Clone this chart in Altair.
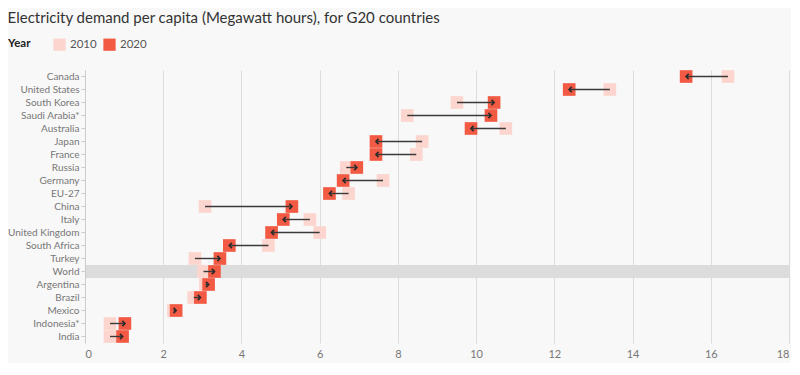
import altair as alt
import pandas as pd

countries = ["Canada", "United States", "South Korea", "Saudi Arabia*", "Australia",
             "Japan", "France", "Russia", "Germany", "EU-27", "China", "Italy",
             "United Kingdom", "South Africa", "Turkey", "World", "Argentina",
             "Brazil", "Mexico", "Indonesia*", "India"]
v2010 = [16.44, 13.42, 9.51, 8.24, 10.76, 8.62, 8.47, 6.68, 7.62, 6.74, 3.07, 5.75,
         6.0, 4.69, 2.81, 3.03, 3.08, 2.78, 2.26, 0.64, 0.64]
v2020 = [15.37, 12.38, 10.46, 10.38, 9.87, 7.44, 7.44, 6.95, 6.6, 6.25, 5.29, 5.07,
         4.77, 3.69, 3.45, 3.31, 3.16, 2.95, 2.33, 1.02, 0.96]
x_ticks = [0, 2, 4, 6, 8, 10, 12, 14, 16, 18]
highlight = ["World"]

df = pd.DataFrame({"country": countries, "y2010": v2010, "y2020": v2020})
band_df = pd.DataFrame({"country": highlight, "x0": [x_ticks[0]], "x1": [x_ticks[-1]]})

ysc = alt.Scale(domain=countries, paddingInner=0, paddingOuter=0)
xsc = alt.Scale(domain=[x_ticks[0], x_ticks[-1]], nice=False)
yax = alt.Axis(title=None, labelColor="#777", labelFontSize=10, labelFont="Lato",
               tickColor="#ccc", tickSize=4, domainColor="#ccc", labelPadding=2, grid=False)
xax = alt.Axis(title=None, values=x_ticks, labelColor="#777", labelFontSize=11, labelFont="Lato",
               grid=True, gridColor="#dcdcdc", domain=False, ticks=False, labelPadding=5)

band = alt.Chart(band_df).mark_rect(color="#dcdcdc").encode(
    y=alt.Y("country:N", scale=ysc, sort=countries, axis=yax),
    x=alt.X("x0:Q", scale=xsc, axis=xax),
    x2="x1:Q",
)

pts = alt.Chart(df).transform_fold(["y2010", "y2020"], as_=["key", "value"]).transform_calculate(
    Year="replace(datum.key, 'y', '')"
).mark_square(size=160, opacity=1).encode(
    y=alt.Y("country:N", scale=ysc, sort=countries, axis=yax),
    x=alt.X("value:Q", scale=xsc, axis=xax),
    color=alt.Color("Year:N", scale=alt.Scale(domain=["2010", "2020"], range=["#fcd6ce", "#f25a44"]),
                    legend=alt.Legend(orient="none", legendX=-77, legendY=-32, direction="horizontal",
                                      titleOrient="left", title="Year", titleFontSize=11.5,
                                      titleFontWeight="bold", titleColor="#222", titleFont="Lato",
                                      labelFont="Lato", labelFontSize=11.5, labelColor="#555",
                                      symbolType="square", symbolSize=150, symbolStrokeWidth=0,
                                      columnPadding=6, titlePadding=22, labelOffset=4)),
)

lines = alt.Chart(df).mark_rule(color="#3a3a3a", strokeWidth=1.4).encode(
    y=alt.Y("country:N", scale=ysc, sort=countries, axis=yax),
    x=alt.X("y2010:Q", scale=xsc, axis=xax),
    x2="y2020:Q",
)

heads = alt.Chart(df).transform_calculate(
    ang="datum.y2020 >= datum.y2010 ? 0 : 180"
).mark_point(shape="M-1,-1L0,0L-1,1", filled=False, color="#2a2a2a", strokeWidth=1.7,
             size=26, opacity=1).encode(
    y=alt.Y("country:N", scale=ysc, sort=countries, axis=yax),
    x=alt.X("y2020:Q", scale=xsc, axis=xax),
    angle=alt.Angle("ang:Q", scale=None),
)

chart = alt.layer(band, pts, lines, heads).properties(
    width=704, height=273,
    autosize=alt.AutoSizeParams(type="none"),
    padding={"left": 77, "top": 62, "right": 2, "bottom": 20},
    background="#f8f8f8",
    title=alt.TitleParams("Electricity demand per capita (Megawatt hours), for G20 countries",
                          anchor="start", frame="bounds", font="Lato", fontSize=15,
                          fontWeight="normal", color="#333", offset=12),
).configure_view(stroke=None)

chart.save("out.html", embed_options={"renderer": "svg", "actions": False})
